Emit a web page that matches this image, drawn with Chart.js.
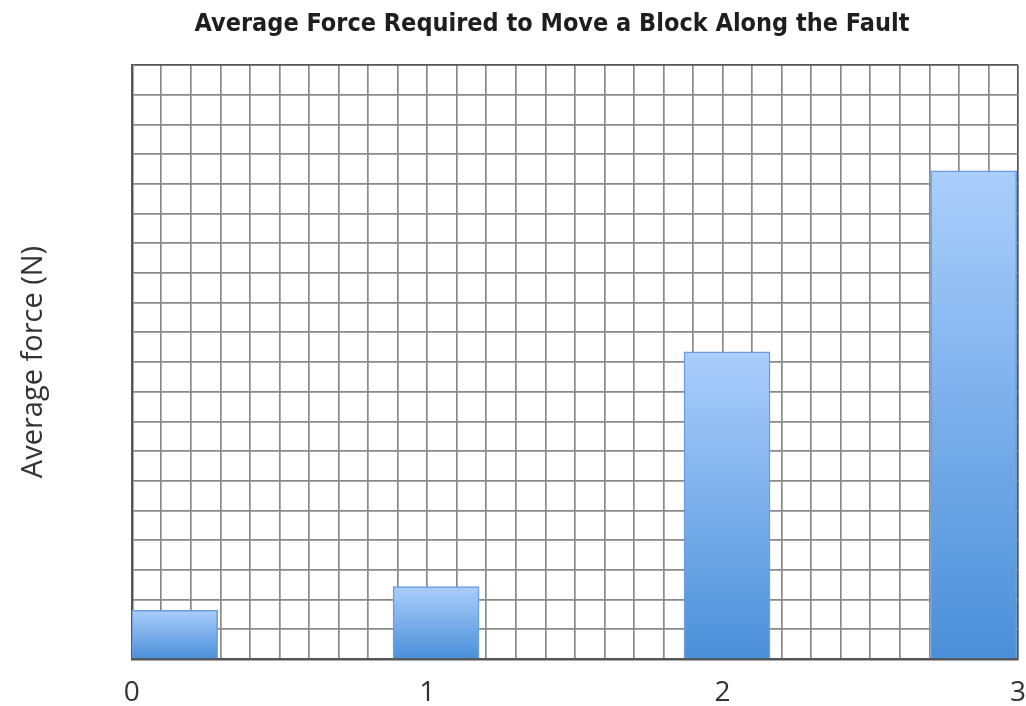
<!DOCTYPE html>
<html>
<head>
<meta charset="utf-8">
<script src="https://cdn.jsdelivr.net/npm/chart.js@4.4.1/dist/chart.umd.min.js"></script>
<style>
  html, body { margin: 0; padding: 0; background: #ffffff; overflow: hidden; }
  #wrap { position: relative; width: 1026px; height: 706px; }
</style>
</head>
<body>
<div id="wrap"><canvas id="chart"></canvas></div>
<script>
// Block trials: where each bar sits on the x axis and the average force measured
const barPositions = [0.145, 1.03, 2.015, 2.85];
const averageForce = [1.64, 2.44, 10.34, 16.44];
// Labelled ticks along the x axis
const xTickValues = [0, 1, 2, 3];
const xTickLabels = ['0', '1', '2', '3'];

const chartTitle = 'Average Force Required to Move a Block Along the Fault';
const yAxisTitle = 'Average force (N)';

const points = barPositions.map((x, i) => ({ x: x, y: averageForce[i] }));

// Vertical gradient for each bar, light at the top and deeper blue at the base
function barGradient(ctx) {
  const chart = ctx.chart;
  const area = chart.chartArea;
  if (!area || ctx.type !== 'data') return '#7aaeea';
  const yScale = chart.scales.y;
  const top = yScale.getPixelForValue(ctx.parsed.y);
  const base = yScale.getPixelForValue(0);
  const g = chart.ctx.createLinearGradient(0, top, 0, base);
  g.addColorStop(0, '#abcefc');
  g.addColorStop(1, '#4a8fd9');
  return g;
}

const minorGrid = '#8a8a8a';
const frame = '#555555';

new Chart(document.getElementById('chart'), {
  type: 'bar',
  data: {
    datasets: [{
      data: points,
      backgroundColor: barGradient,
      borderColor: '#6a9cdc',
      borderWidth: 1.5,
      barThickness: 86
    }]
  },
  options: {
    responsive: true,
    maintainAspectRatio: false,
    animation: false,
    // left padding centres the title over the plot; the y title pulls back out to the edge
    layout: { padding: { top: 0, right: 6, bottom: -21, left: 84 } },
    plugins: {
      legend: { display: false },
      tooltip: { enabled: false },
      title: {
        display: true,
        text: chartTitle,
        color: '#1e1e1e',
        font: { family: "'DejaVu Sans Condensed', sans-serif", size: 25, weight: 'bold', lineHeight: 1.2 },
        padding: { top: 9, bottom: 26 }
      }
    },
    scales: {
      x: {
        type: 'linear',
        min: 0,
        max: 3,
        offset: false,
        afterBuildTicks(scale) {
          const t = [];
          for (let i = 0; i <= 30; i++) t.push({ value: i / 10 });
          scale.ticks = t;
        },
        ticks: {
          autoSkip: false,
          maxRotation: 0,
          padding: 0,
          color: '#333333',
          font: { family: "'Open Sans', sans-serif", size: 28, lineHeight: '68px' },
          callback(value) {
            const k = xTickValues.findIndex(v => Math.abs(v - value) < 1e-6);
            return k >= 0 ? xTickLabels[k] : '';
          }
        },
        grid: {
          offset: false,
          drawTicks: false,
          lineWidth: 1.7,
          color(ctx) {
            return ctx.tick && Math.abs(ctx.tick.value - 3) < 1e-6 ? frame : minorGrid;
          }
        },
        border: { display: true, color: frame, width: 2.5 }
      },
      y: {
        min: 0,
        max: 20,
        ticks: { display: false, stepSize: 1 },
        grid: {
          drawTicks: false,
          lineWidth: 1.7,
          color(ctx) {
            return ctx.tick && ctx.tick.value === 20 ? frame : minorGrid;
          }
        },
        border: { display: true, color: frame, width: 2.5 },
        title: {
          display: true,
          text: yAxisTitle,
          color: '#333333',
          font: { family: "'Open Sans', sans-serif", size: 29, lineHeight: 1.2 },
          padding: { top: -68, bottom: 81 }
        }
      }
    }
  }
});
</script>
</body>
</html>
